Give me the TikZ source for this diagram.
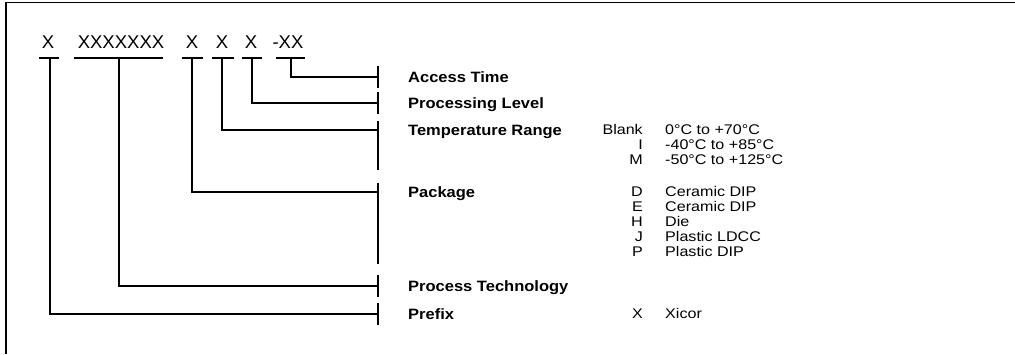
\documentclass[tikz,border=0pt]{standalone}
\usepackage{fontspec}
\setmainfont{Liberation Sans}
\newfontfamily\fieldfont{Liberation Sans}[FakeStretch=1.1]
\newfontfamily\optfont{Liberation Sans}[FakeStretch=1.15]
\usepackage{tikz}
\usetikzlibrary{positioning,calc}

\begin{document}
\begin{tikzpicture}[
  x=1pt, y=-1pt,
  frame/.style={line width=1.3pt},
  code/.style={font=\fontsize{18.5}{20}\selectfont, inner sep=0pt, anchor=base},
  uline/.style={line width=1.7pt},
  conn/.style={line width=1.7pt},
  bar/.style={line width=2pt},
  field/.style={font=\fieldfont\bfseries\fontsize{15}{17}\selectfont,
                inner sep=0pt, anchor=base west},
  optkey/.style={font=\optfont\fontsize{14}{16}\selectfont,
                 inner sep=0pt, anchor=base east},
  optval/.style={font=\optfont\fontsize{14}{16}\selectfont,
                 inner sep=0pt, anchor=base west}
]
  \useasboundingbox (0,0) rectangle (1015,354);
  \draw[frame] (1015,2.5) -- (6,2.5) -- (6,354);

  % part number
  \node[code] (pre)  at (48,48)  {X};
  \node[code] (tech) at (121,48) {XXXXXXX};
  \node[code] (pkg)  at (192,48) {X};
  \node[code] (temp) at (222,48) {X};
  \node[code] (lvl)  at (251,48) {X};
  \node[code] (acc)  at (288,48) {-XX};

  % underlines
  \draw[uline] (39,58)  -- (59,58);
  \draw[uline] (74,58)  -- (163,58);
  \draw[uline] (182,58) -- (203,58);
  \draw[uline] (212,58) -- (234,58);
  \draw[uline] (242,58) -- (262,58);
  \draw[uline] (276,58) -- (305,58);
  \coordinate (u1) at (50,58);
  \coordinate (u2) at (119,58);
  \coordinate (u3) at (192,58);
  \coordinate (u4) at (222,58);
  \coordinate (u5) at (252,58);
  \coordinate (u6) at (291,58);

  % bars
  \coordinate (b6) at (378,77);
  \coordinate (b5) at (378,103);
  \coordinate (b4) at (378,130);
  \coordinate (b3) at (378,192);
  \coordinate (b2) at (378,286);
  \coordinate (b1) at (378,314);
  \draw[bar] (378,66)  -- (378,88);
  \draw[bar] (378,92)  -- (378,114);
  \draw[bar] (378,121) -- (378,170);
  \draw[bar] (378,183) -- (378,264);
  \draw[bar] (378,275) -- (378,297);
  \draw[bar] (378,303) -- (378,325);

  \foreach \i in {1,...,6}
    \draw[conn] (u\i) |- (b\i);

  % fields
  \node[field] (facc)  at (408,82)  {Access Time};
  \node[field] (flvl)  at (408,108) {Processing Level};
  \node[field] (ftemp) at (408,135) {Temperature Range};
  \node[field] (fpkg)  at (408,197) {Package};
  \node[field] (ftech) at (408,291) {Process Technology};
  \node[field] (fpre)  at (408,319) {Prefix};

  % options
  \node[optkey] (tk1) at (643,134.5) {Blank};
  \node[optval] (tv1) at (665,134.5) {0°C to +70°C};
  \node[optkey] (tk2) at (643,149.5) {I};
  \node[optval] (tv2) at (665,149.5) {-40°C to +85°C};
  \node[optkey] (tk3) at (643,164)   {M};
  \node[optval] (tv3) at (665,164)   {-50°C to +125°C};

  \node[optkey] (pk1) at (643,196.5) {D};
  \node[optval] (pv1) at (665,196.5) {Ceramic DIP};
  \node[optkey] (pk2) at (643,211.5) {E};
  \node[optval] (pv2) at (665,211.5) {Ceramic DIP};
  \node[optkey] (pk3) at (643,226.5) {H};
  \node[optval] (pv3) at (665,226.5) {Die};
  \node[optkey] (pk4) at (643,241.5) {J};
  \node[optval] (pv4) at (665,241.5) {Plastic LDCC};
  \node[optkey] (pk5) at (643,256.5) {P};
  \node[optval] (pv5) at (665,256.5) {Plastic DIP};

  \node[optkey] (xk)  at (643,318.5) {X};
  \node[optval] (xv)  at (665,318.5) {Xicor};
\end{tikzpicture}
\end{document}
